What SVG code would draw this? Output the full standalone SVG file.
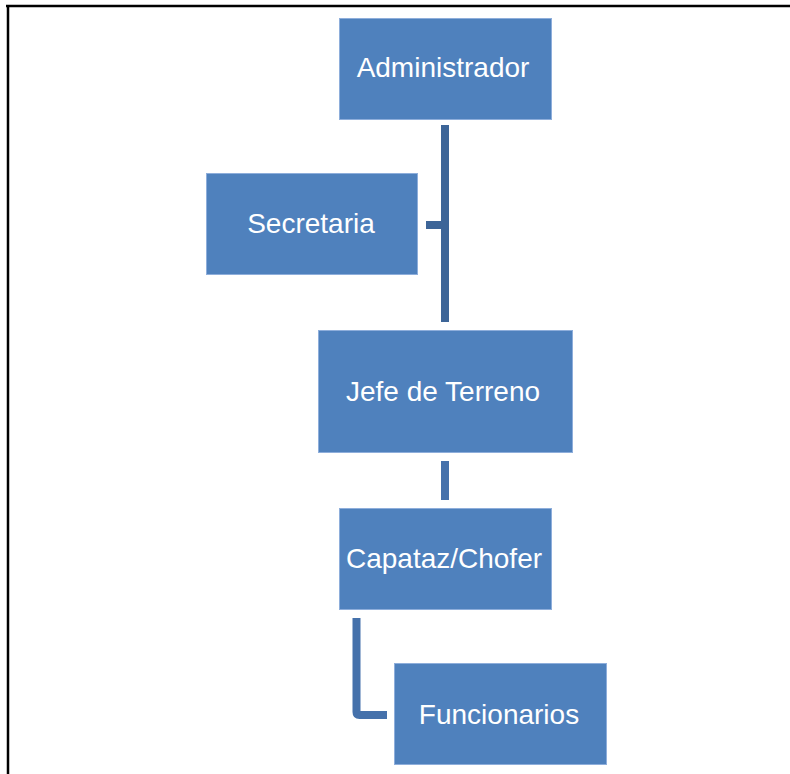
<svg xmlns="http://www.w3.org/2000/svg" width="790" height="774" viewBox="0 0 790 774">
<style>
.box{fill:#4F81BD;stroke:#8EAEDB;stroke-width:1}
.lbl{font-family:"Liberation Sans",Arial,sans-serif;font-size:28px;fill:#FFFFFF;text-anchor:middle}
.con{fill:none;stroke-width:8;stroke-linecap:butt}
</style>
<rect width="790" height="774" fill="#FFFFFF"/>
<g id="frame">
<line x1="6" y1="6" x2="790" y2="6" stroke="#000" stroke-width="2.5"/>
<line x1="8" y1="5" x2="8" y2="774" stroke="#000" stroke-width="2.5"/>
</g>
<g id="connectors">
<line class="con" stroke="#3D6598" x1="445" y1="125" x2="445" y2="322"/>
<line class="con" stroke="#3D6598" x1="426" y1="225" x2="445" y2="225"/>
<line class="con" stroke="#4571AB" x1="445" y1="461" x2="445" y2="500"/>
<path class="con" stroke="#4571AB" d="M356.5,618 V712 Q356.5,715 359.5,715 H387"/>
</g>
<g id="administrador">
<rect class="box" x="339.5" y="18.5" width="212" height="101"/>
<text class="lbl" x="443" y="77">Administrador</text>
</g>
<g id="secretaria">
<rect class="box" x="206.5" y="173.5" width="211" height="101"/>
<text class="lbl" x="311" y="233">Secretaria</text>
</g>
<g id="jefe">
<rect class="box" x="318.5" y="330.5" width="254" height="122"/>
<text class="lbl" x="443" y="401">Jefe de Terreno</text>
</g>
<g id="capataz">
<rect class="box" x="339.5" y="508.5" width="212" height="101"/>
<text class="lbl" x="444" y="568">Capataz/Chofer</text>
</g>
<g id="funcionarios">
<rect class="box" x="394.5" y="663.5" width="212" height="101"/>
<text class="lbl" x="499" y="724">Funcionarios</text>
</g>
</svg>
